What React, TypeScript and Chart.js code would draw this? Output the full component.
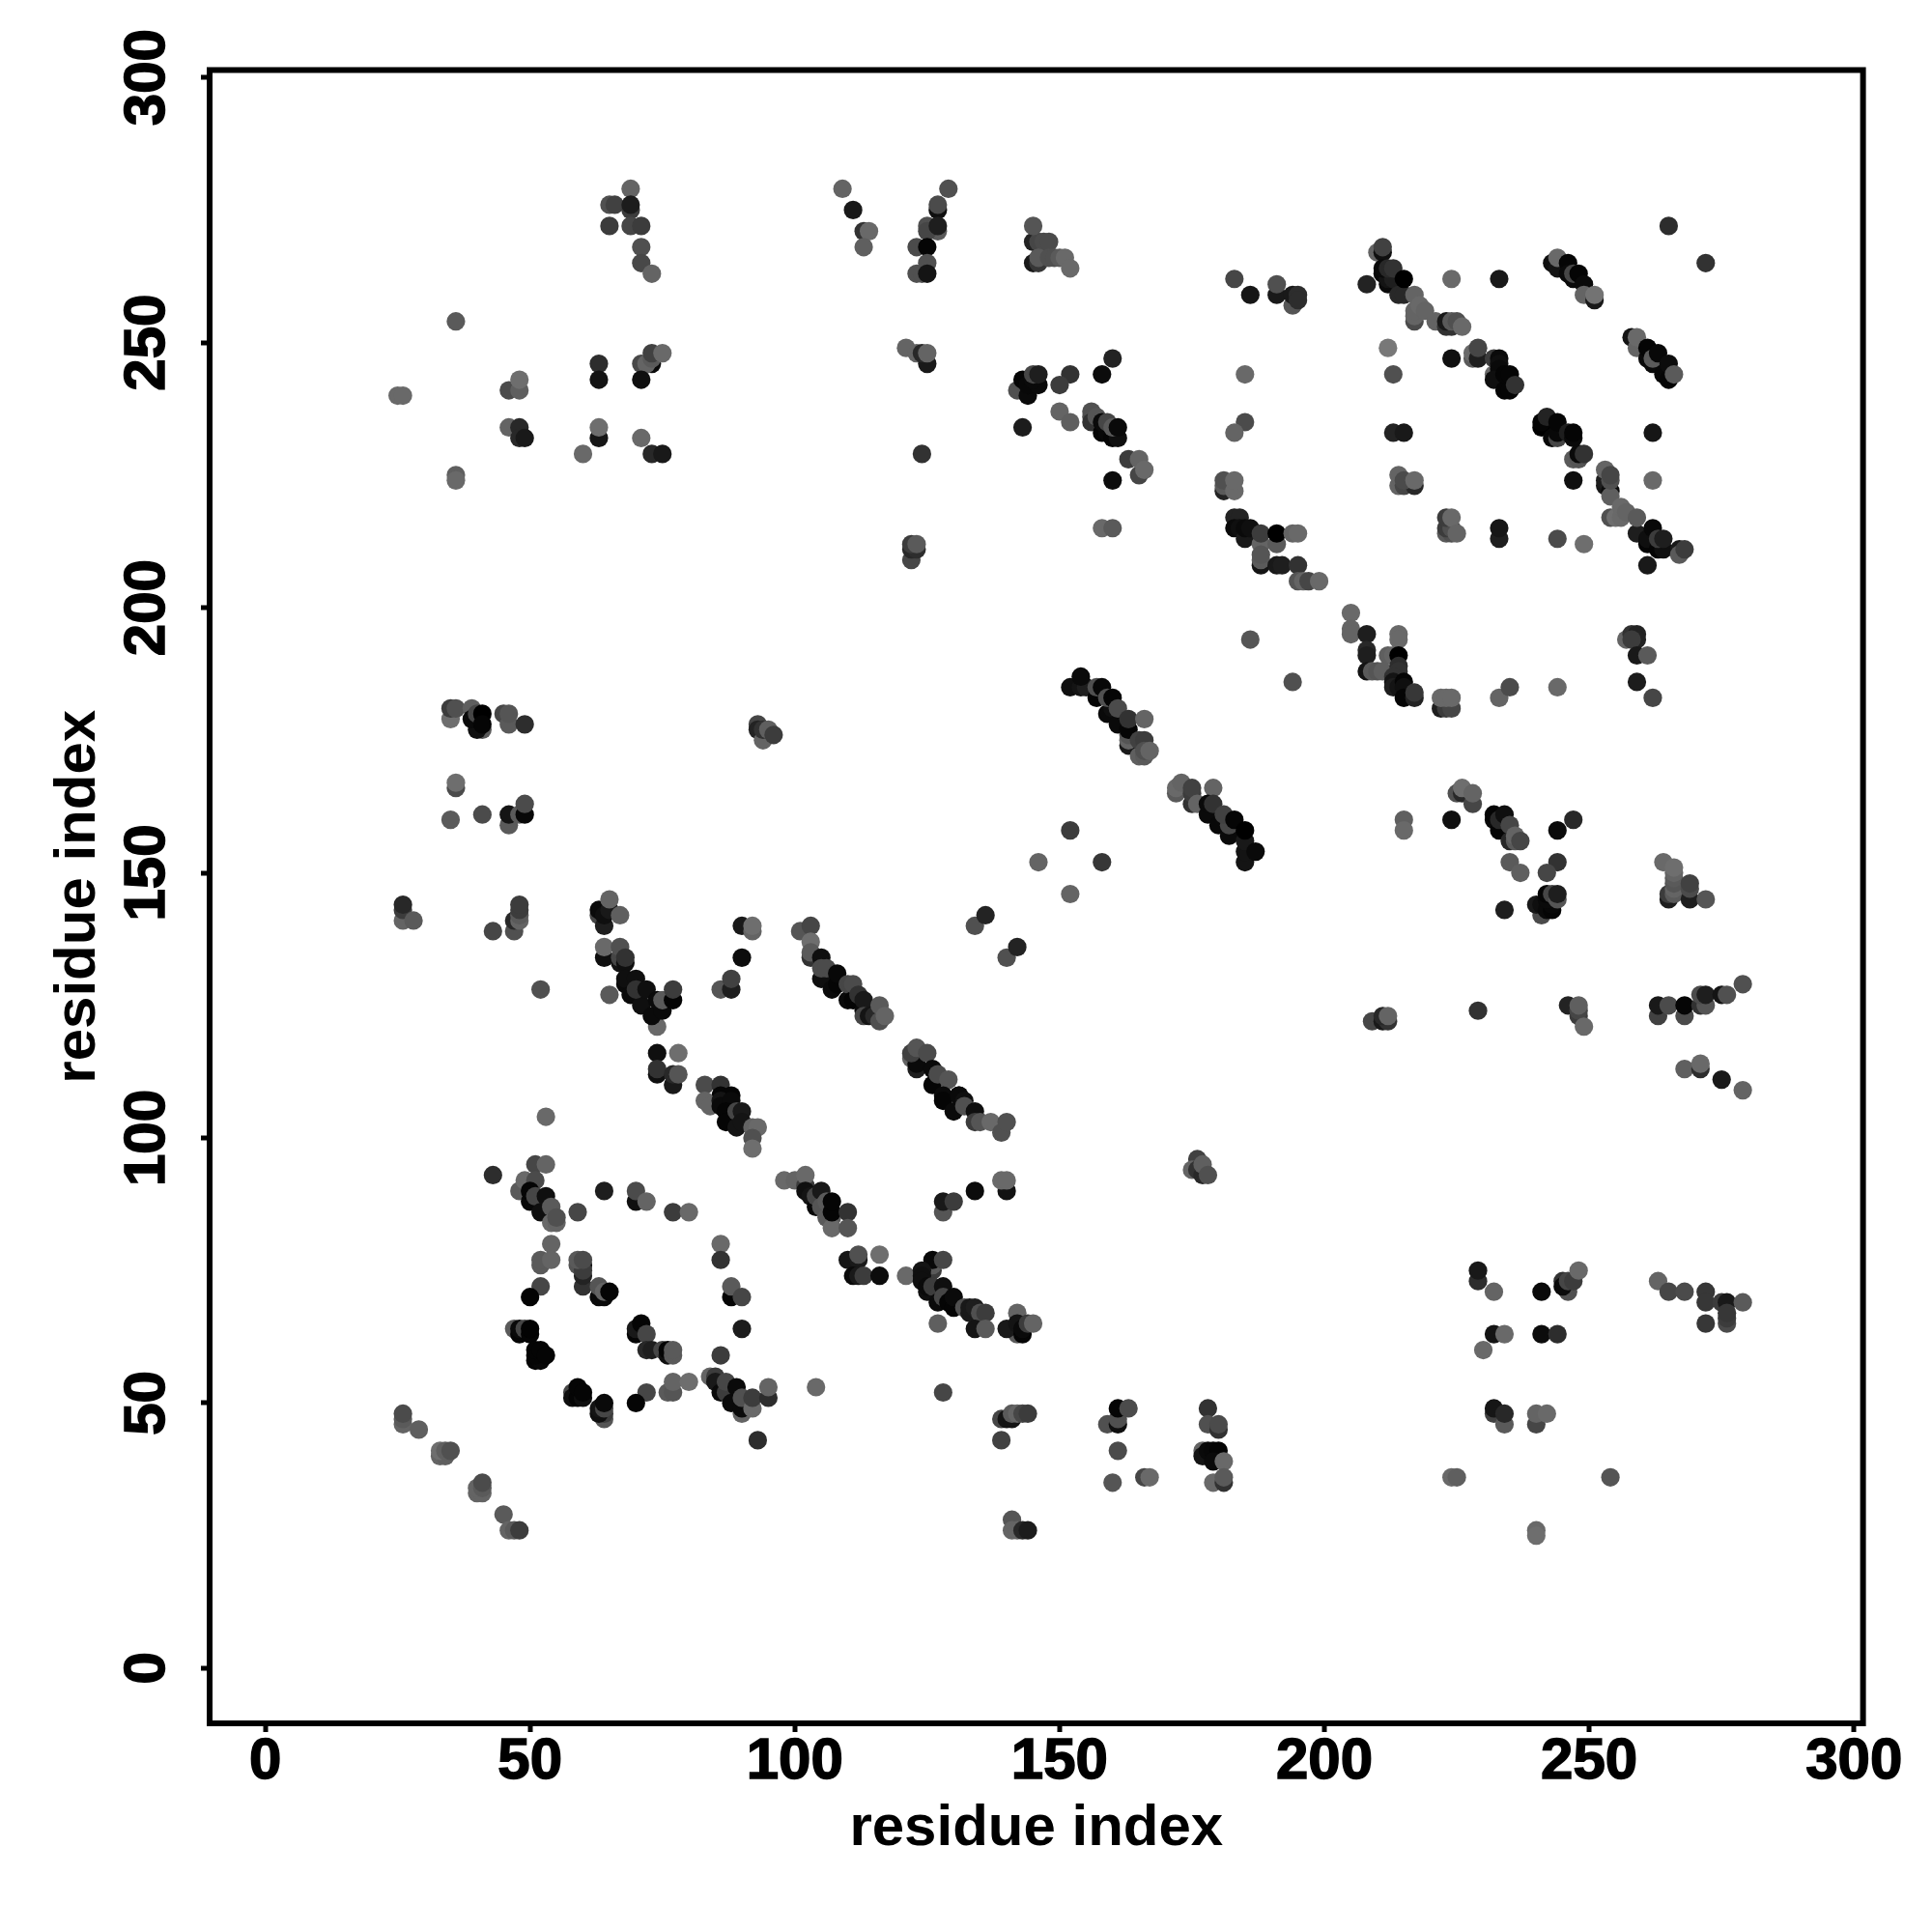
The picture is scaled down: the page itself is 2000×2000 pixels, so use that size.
import React, { useEffect, useRef } from "react";
import { Chart, registerables } from "chart.js";

Chart.register(...registerables);

type Contact = [number, number, number];

const tickValues = [0, 50, 100, 150, 200, 250, 300];
const axisTitle = "residue index";

// each contact: residue i, residue j, grey level
const upperLeft: Contact[] = [
  [69,279,100],[65,276,80],[66,276,65],[69,275,60],[69,276,28],[65,272,60],[69,272,70],[71,272,60],[71,268,80],[71,265,72],[73,263,100],
  [36,254,90],[63,246,45],[63,243,20],[71,246,72],[73,246,10],[72,246,100],[73,247,90],[73,248,65],[75,248,105],[71,243,15],
  [46,241,75],[48,241,95],[48,243,110],[25,240,105],[26,240,105],[46,234,100],[48,234,40],[48,232,40],[49,232,25],
  [63,232,22],[63,234,110],[60,229,105],[71,232,105],[73,229,40],[75,229,25],[36,225,95],[36,224,105],[109,279,100],[111,275,25],
];
const upperMiddle: Contact[] = [
  [129,279,80],[127,275,15],[127,276,75],[113,271,50],[114,271,105],[113,268,95],[127,271,90],[125,272,80],[125,271,70],[127,272,30],
  [123,268,75],[125,268,5],[125,265,80],[123,263,80],[124,263,80],[125,263,20],
  [145,265,25],[146,265,55],[145,269,35],[146,269,70],[147,269,75],[148,269,75],[145,272,85],[146,266,90],[148,266,80],[149,266,80],[150,266,90],[151,266,105],[152,264,105],
  [183,262,70],[186,259,22],[191,259,25],[191,261,80],[194,257,85],[194,259,25],[195,259,45],[195,258,45],
  [121,249,100],[123,248,100],[125,246,25],[124,248,40],[125,248,100],
  [142,241,80],[144,240,10],[143,243,5],[144,242,8],[146,242,10],[145,243,10],[145,244,70],[146,244,30],[152,244,50],[150,242,60],
  [160,247,35],[158,244,12],[185,244,105],[185,235,75],[183,233,100],[143,234,28],[150,237,100],[152,235,95],
  [156,237,80],[156,236,80],[156,235,50],[157,236,85],[158,233,5],[159,233,8],[158,235,10],[160,232,5],[161,232,15],[159,235,70],[160,234,90],[161,234,10],
  [165,225,70],[163,228,60],[165,228,100],[166,226,105],[160,224,12],[124,229,50],[158,215,105],[160,215,90],
  [181,222,35],[181,223,90],[181,224,80],[183,222,105],[183,224,105],
  [183,217,35],[184,217,35],[183,215,10],[184,215,15],[185,213,25],[185,215,10],[186,215,15],[188,212,100],[188,214,60],[191,212,90],[191,214,0],[194,214,100],[195,214,105],
  [188,208,20],[188,209,90],[188,210,85],[191,208,25],[192,208,30],[195,208,50],[195,205,85],[196,205,100],
  [122,209,70],[122,211,40],[123,211,45],[122,212,60],[123,212,90],
];
const upperRight: Contact[] = [
  [265,272,45],[272,265,50],[210,267,100],[211,267,15],[211,268,65],[208,261,35],
  [211,263,8],[212,261,10],[212,262,20],[213,262,30],[211,264,10],[212,264,40],[213,264,50],[214,259,40],[215,259,40],[215,262,0],
  [217,254,75],[217,255,100],[217,256,100],[217,259,100],[218,257,105],[219,256,100],[224,262,105],[233,262,25],
  [221,254,100],[223,253,50],[224,253,50],[223,254,25],[224,254,90],[225,254,80],[226,253,105],[212,249,120],[213,244,80],[224,247,15],
  [228,247,90],[228,248,105],[229,247,30],[229,249,70],[232,244,105],[232,247,60],[233,247,10],[233,246,15],[233,245,10],[232,243,15],[234,241,5],[235,241,5],[234,244,5],[235,244,5],[236,242,50],
  [243,265,15],[244,264,20],[244,266,105],[246,265,5],[246,263,10],[247,262,10],[247,263,70],[248,263,5],[249,261,10],[249,259,100],[251,258,25],[251,259,115],
  [258,251,20],[259,249,100],[259,251,105],[261,247,10],[262,246,10],[261,249,5],[262,247,90],[263,248,8],[264,244,8],[265,243,5],[265,246,12],[266,244,90],
  [241,234,0],[241,235,5],[242,236,35],[243,232,8],[244,232,70],[244,233,8],[244,235,5],[246,233,30],[247,232,10],[247,233,5],
  [247,228,90],[248,228,85],[248,229,10],[249,229,50],[247,224,15],[262,233,22],[262,224,105],
  [253,223,25],[253,224,30],[254,222,12],[254,221,95],[254,224,80],[253,226,100],[254,225,70],
  [254,217,80],[255,217,110],[256,217,105],[256,219,105],[257,218,100],[259,214,30],[259,217,90],
  [261,212,5],[261,213,15],[263,211,5],[264,211,15],[262,215,8],[263,213,60],[264,213,30],[261,208,25],[267,211,25],[267,210,90],[268,211,60],
  [244,213,75],[249,212,110],[233,213,30],[233,215,22],[223,214,90],[224,214,80],[223,215,60],[224,215,80],[223,217,60],[224,217,105],[225,214,100],
  [213,233,35],[215,233,25],[214,223,100],[215,223,70],[217,223,40],[214,225,100],[215,224,75],[217,224,105],
  [197,205,70],[199,205,105],[205,199,105],[205,196,100],[205,195,100],[208,195,30],[214,195,105],
];
const middleRight: Contact[] = [
  [208,192,40],[208,191,30],[212,191,95],[213,191,100],[214,194,105],[214,191,0],[208,188,20],[209,188,90],[210,188,85],[211,188,95],[214,189,45],[214,188,50],
  [213,187,50],[213,186,20],[213,185,30],[214,185,20],[215,186,5],[215,185,15],[215,183,5],[217,183,35],[217,184,55],
  [222,181,30],[223,181,60],[224,181,70],[222,183,105],[223,183,105],[224,183,105],[233,183,100],[235,185,75],[244,185,105],
  [257,194,100],[258,195,50],[259,195,35],[259,194,35],[258,194,60],[259,191,25],[261,191,90],[259,186,28],[262,183,70],
  [225,165,80],[226,165,40],[226,166,110],[228,163,70],[228,165,100],[215,160,95],[215,158,105],[224,160,15],
  [232,160,10],[232,161,5],[233,158,5],[233,160,40],[234,161,15],[235,159,70],[235,156,40],[236,156,90],[236,157,100],[237,156,70],
  [235,152,90],[237,150,95],[247,160,40],[244,158,10],[244,152,50],[242,150,70],[234,143,30],
  [241,142,75],[240,144,25],[241,144,15],[242,143,10],[243,143,5],[243,144,8],[242,145,10],[242,146,5],[243,146,70],[244,145,85],[244,146,30],
  [265,145,30],[265,146,60],[266,146,90],[266,147,100],[266,148,85],[266,149,90],[266,150,100],[264,152,105],[266,151,110],
  [269,145,30],[269,147,75],[269,148,65],[272,145,85],
  [209,122,70],[211,122,25],[212,122,50],[211,123,40],[212,123,100],[229,124,50],
  [246,125,35],[248,123,60],[248,124,70],[248,125,95],[249,121,105],
  [263,123,65],[263,125,25],[265,125,75],[268,123,75],[268,125,5],[271,125,50],[272,125,85],[271,127,75],[272,127,30],[275,127,20],[276,127,80],[279,129,80],
  [268,113,95],[271,113,45],[271,114,105],[275,111,25],[279,109,100],
];
const middleLeft: Contact[] = [
  [35,179,110],[35,181,60],[36,181,80],[39,181,95],[41,177,90],[40,177,15],[39,179,10],[40,180,70],[41,180,0],[41,178,5],
  [45,180,70],[46,178,90],[46,180,85],[49,178,45],[36,166,75],[36,167,110],[35,160,90],[41,161,75],
  [46,159,90],[46,161,20],[48,161,90],[49,161,8],[49,163,75],
  [26,141,100],[26,143,60],[26,144,40],[28,141,90],[43,139,70],[47,139,80],[47,141,40],[48,141,100],[48,142,90],[48,143,60],[48,144,60],[52,128,80],
  [63,142,70],[64,140,30],[63,143,10],[64,142,15],[65,143,25],[65,145,100],[67,142,95],
  [64,134,15],[64,136,105],[67,133,20],[67,134,70],[67,136,80],[68,133,15],[68,134,50],[65,127,90],
  [68,129,10],[68,130,15],[69,127,10],[71,125,15],[70,130,15],[70,128,50],[72,128,15],[74,121,105],[73,123,10],[75,124,10],[74,126,10],[75,126,90],[77,126,5],[77,128,60],
  [90,140,25],[92,139,100],[92,140,110],[90,134,12],[86,128,85],[88,128,30],[88,130,65],
  [93,178,70],[93,177,35],[94,175,100],[94,177,50],[95,177,95],[96,176,60],
  [101,139,85],[103,140,70],[103,137,110],[103,134,50],[103,135,90],
  [105,130,15],[105,134,15],[105,132,75],[106,132,75],[107,128,10],[108,129,5],[108,131,8],[110,126,10],[110,129,70],
  [74,116,15],[78,116,110],[74,112,15],[74,113,50],[77,110,25],[77,112,40],[78,112,85],[83,110,75],[86,110,50],[86,108,5],[88,108,5],
];
const middleCenter: Contact[] = [
  [186,194,85],[194,186,80],
  [152,185,15],[154,185,20],[155,185,30],[154,187,10],[157,183,5],[157,185,80],[158,185,8],[159,180,10],[160,181,15],[159,183,80],[160,183,5],[161,178,10],[161,181,75],
  [163,174,25],[163,175,100],[163,176,85],[163,177,5],[163,179,50],[166,179,100],
  [165,172,95],[166,172,90],[165,175,65],[166,175,60],[166,173,80],[167,173,100],
  [172,165,90],[172,166,105],[173,167,100],[175,163,50],[175,165,60],[175,166,65],[176,163,100],[179,166,100],
  [178,161,10],[178,163,10],[179,163,50],[180,159,8],[182,157,10],[182,159,70],[181,161,65],[183,160,5],[185,152,20],[185,154,20],[185,156,25],[185,158,0],[187,154,10],
  [152,158,60],[146,152,100],[158,152,55],[152,146,100],[134,140,80],[136,142,35],[140,134,80],[142,136,35],
  [111,126,5],[111,129,75],[112,127,50],[113,124,10],[113,126,25],[113,123,70],[114,123,20],[115,123,40],[116,122,80],[116,125,90],[117,123,100],
  [122,115,100],[123,113,30],[123,114,10],[122,116,65],[123,117,85],[125,116,75],[126,110,5],[126,113,10],[127,112,75],[129,111,85],[128,108,10],[131,108,5],
];
const lowerLeft: Contact[] = [
  [53,104,105],[43,93,45],[51,95,70],[53,95,100],[48,90,90],[49,92,105],[51,92,75],[50,88,8],[50,90,5],[51,89,70],[52,86,15],[53,89,15],[54,87,90],[54,84,105],[55,84,100],[55,85,80],
  [59,86,70],[64,90,30],[70,88,15],[70,90,75],[72,88,100],[77,86,60],[80,86,105],[86,80,105],[86,77,50],
  [54,80,100],[52,76,90],[52,77,90],[54,77,100],
  [60,72,50],[60,74,35],[60,76,15],[59,76,85],[60,75,60],[59,77,90],[60,77,75],
  [63,70,10],[64,70,10],[63,72,85],[64,71,100],[65,71,5],[52,72,70],[50,70,3],[88,70,5],[88,72,90],[90,70,70],[90,64,28],[86,59,60],
  [47,64,90],[48,63,5],[48,64,10],[49,64,70],[50,63,5],[50,64,3],[51,58,5],[52,58,8],[51,59,5],[51,60,5],[52,60,5],[53,59,5],
  [70,63,5],[70,64,25],[71,65,5],[72,63,70],[72,60,40],[73,60,30],[75,60,70],[76,59,15],[76,60,5],[77,59,90],[77,60,90],
  [76,52,90],[77,52,85],[77,54,100],[80,54,110],[72,52,70],[70,50,5],
  [58,52,70],[58,51,15],[59,51,5],[60,51,15],[59,53,5],[60,52,5],
  [64,47,85],[64,48,60],[63,48,15],[63,49,20],[64,49,70],[64,50,10],
  [84,55,100],[85,55,60],[85,54,25],[86,52,10],[87,52,60],[87,54,70],[88,50,10],[89,53,10],[90,48,100],[90,49,10],[90,51,80],[92,49,105],[92,51,60],[95,51,45],[95,53,100],[104,53,105],[93,43,45],
  [26,46,100],[26,47,90],[26,48,75],[29,45,95],[33,40,100],[34,40,95],[33,41,110],[34,41,95],[35,41,80],
  [40,33,100],[41,33,100],[40,34,100],[41,34,90],[41,35,75],[45,29,90],[46,26,100],[47,26,90],[48,26,60],
  [83,107,100],[84,106,100],[86,107,20],[86,106,10],[88,107,10],[87,105,5],[87,103,5],[89,105,70],[90,105,25],[89,102,20],[90,103,20],[92,102,100],[93,102,105],[92,100,80],[92,98,110],
  [98,92,105],[100,92,100],[102,91,60],[102,93,105],[102,90,15],[103,89,20],[104,87,8],[104,89,70],[105,90,25],[105,87,85],[106,88,90],[106,85,90],[107,85,90],[107,83,105],[107,86,5],[107,88,5],
];
const lowerCenter: Contact[] = [
  [128,107,5],[130,105,10],[131,108,10],[132,107,15],[132,106,80],[134,105,15],[134,103,60],[135,103,85],[137,103,105],[139,101,80],[140,103,80],
  [176,96,65],[175,94,100],[176,94,50],[177,93,40],[177,95,95],[178,93,80],
  [140,90,18],[139,92,105],[140,92,105],[134,90,12],[128,86,85],[128,88,25],[130,88,60],[110,86,50],[110,83,85],
  [110,77,22],[112,77,25],[112,78,80],[116,78,110],[111,74,10],[112,74,25],[113,74,60],[116,74,12],[121,74,105],
  [126,75,60],[126,76,90],[126,77,8],[128,77,70],[124,75,20],[124,74,15],[124,73,15],[125,71,15],[125,72,10],[126,72,60],[127,69,10],[128,72,15],[128,70,70],[129,69,5],[130,68,5],[130,70,10],
  [132,68,80],[133,67,25],[133,68,25],[134,68,30],[135,67,80],[136,67,60],[134,64,20],[136,64,90],[127,65,95],
  [142,63,90],[142,67,100],[140,64,25],[142,65,20],[143,63,5],[143,64,10],[144,65,60],[145,65,100],
  [128,52,70],[139,47,70],[140,47,20],[141,47,20],[141,48,90],[142,48,100],[143,48,70],[144,48,60],[139,43,65],
  [159,46,80],[161,46,15],[161,47,80],[161,49,5],[163,49,75],[161,41,75],[160,35,85],[166,36,70],[167,36,105],
  [178,49,50],[178,46,80],[180,45,50],[180,46,75],
  [177,41,100],[177,40,20],[178,41,10],[179,41,8],[180,41,5],[179,39,10],[181,39,105],[179,35,105],[181,35,50],[181,36,90],
  [141,28,85],[141,26,100],[142,26,100],[143,26,40],[144,26,28],
];
const lowerRight: Contact[] = [
  [229,73,45],[229,75,25],[232,71,100],[241,71,10],[245,73,50],[246,71,80],[245,72,10],[246,73,70],[247,73,60],[248,75,105],
  [263,73,100],[265,71,70],[268,71,75],[272,71,55],[272,69,55],[275,69,60],[276,69,25],[279,69,90],[272,65,55],[276,65,75],[276,66,60],[276,67,55],
  [232,63,20],[234,63,105],[230,60,105],[241,63,12],[244,63,45],
  [232,48,65],[232,49,22],[234,46,90],[234,48,40],[240,46,70],[240,48,100],[242,48,105],
  [224,36,105],[225,36,95],[254,36,85],[240,26,105],[240,25,110],
];

const contacts: Contact[] = [
  ...upperLeft, ...upperMiddle, ...upperRight, ...middleLeft, ...middleCenter, ...middleRight, ...lowerLeft, ...lowerCenter, ...lowerRight,
];

const FONT = "'Liberation Sans', Arial, sans-serif";

export default function App() {
  const ref = useRef<HTMLCanvasElement | null>(null);
  useEffect(() => {
    const frame = {
      id: "frame",
      afterDatasetsDraw(chart: any) {
        const { ctx, chartArea: a } = chart;
        ctx.save();
        ctx.strokeStyle = "#000";
        ctx.lineWidth = 6;
        ctx.strokeRect(a.left, a.top, a.right - a.left, a.bottom - a.top);
        ctx.restore();
      },
    };
    const sharedGrid = { drawOnChartArea: false, drawTicks: true, tickLength: 9, tickWidth: 5, tickColor: "#000", lineWidth: 0 };
    const setTicks = (scale: any) => {
      scale.ticks = tickValues.map((value) => ({ value }));
    };
    const chart = new Chart(ref.current as HTMLCanvasElement, {
      type: "scatter",
      data: {
        datasets: [
          {
            label: "contacts",
            data: contacts.map(([x, y]) => ({ x, y })),
            pointRadius: 9.6,
            pointHoverRadius: 9.6,
            pointBorderWidth: 0,
            pointBackgroundColor: contacts.map(([, , s]) => `rgb(${s},${s},${s})`),
          },
        ],
      },
      options: {
        responsive: false,
        animation: false,
        layout: { padding: { left: 0, top: 72.5, right: 71.4, bottom: 0 } },
        plugins: { legend: { display: false }, tooltip: { enabled: false } },
        scales: {
          x: {
            type: "linear",
            min: -10.5,
            max: 301.7,
            afterBuildTicks: setTicks,
            afterFit: (s: any) => { s.height = 216; },
            grid: sharedGrid,
            border: { display: false },
            ticks: { color: "#000", textStrokeColor: "#000", textStrokeWidth: 1.5, font: { family: FONT, weight: "bold", size: 60 }, padding: -5, maxRotation: 0, minRotation: 0, autoSkip: false },
            title: { display: true, text: axisTitle, color: "#000", font: { family: FONT, weight: "bold", size: 60 }, padding: { top: 0, bottom: 71 } },
          },
          y: {
            type: "linear",
            min: -10.4,
            max: 301.4,
            afterBuildTicks: setTicks,
            afterFit: (s: any) => { s.width = 217; },
            grid: sharedGrid,
            border: { display: false },
            ticks: { color: "#000", textStrokeColor: "#000", textStrokeWidth: 1.5, font: { family: FONT, weight: "bold", size: 60 }, padding: 4, minRotation: 90, maxRotation: 90, crossAlign: "center", autoSkip: false },
            title: { display: true, text: axisTitle, color: "#000", font: { family: FONT, weight: "bold", size: 60 }, padding: { top: 45, bottom: 0 } },
          },
        },
      } as any,
      plugins: [frame],
    });
    return () => chart.destroy();
  }, []);
  return (
    <div style={{ position: "absolute", left: 0, top: 0, width: 2000, height: 2000, background: "#fff" }}>
      <canvas ref={ref} width={2000} height={2000} style={{ display: "block" }} />
    </div>
  );
}
